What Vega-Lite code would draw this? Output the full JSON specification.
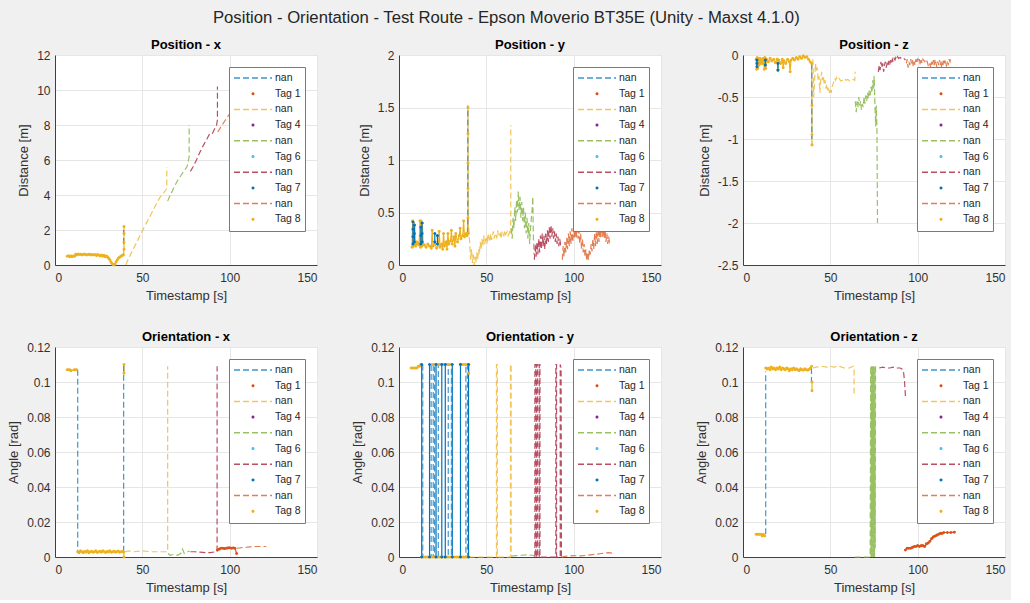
{
"$schema": "https://vega.github.io/schema/vega-lite/v6.json",
"background": "#f0f0f0",
"padding": {"left": 7, "top": 9, "right": 5, "bottom": 5},
"title": {"text": "Position - Orientation - Test Route - Epson Moverio BT35E (Unity - Maxst 4.1.0)", "fontSize": 16.7, "fontWeight": "normal", "color": "#262626", "anchor": "middle", "offset": 12},
"columns": 3,
"spacing": 82,
"bounds": "flush",
"resolve": {"scale": {"color": "independent", "shape": "independent", "strokeDash": "independent"}},
"datasets": {
"p1": [
{"s":"Tag 8","g":"a","t":7,"v":0.5},{"s":"Tag 8","g":"a","t":7.7,"v":0.53},{"s":"Tag 8","g":"a","t":8.4,"v":0.47},{"s":"Tag 8","g":"a","t":9.1,"v":0.52},{"s":"Tag 8","g":"a","t":9.8,"v":0.48},{"s":"Tag 8","g":"a","t":10.5,"v":0.52},{"s":"Tag 8","g":"a","t":11.2,"v":0.5},{"s":"Tag 8","g":"a","t":11.9,"v":0.62},{"s":"Tag 8","g":"a","t":12.6,"v":0.58},{"s":"Tag 8","g":"a","t":13.3,"v":0.63},{"s":"Tag 8","g":"a","t":14,"v":0.6},{"s":"Tag 8","g":"a","t":14.7,"v":0.62},{"s":"Tag 8","g":"a","t":15.4,"v":0.58},{"s":"Tag 8","g":"a","t":16.1,"v":0.6},{"s":"Tag 8","g":"a","t":16.8,"v":0.63},{"s":"Tag 8","g":"a","t":17.5,"v":0.6},{"s":"Tag 8","g":"a","t":18.2,"v":0.57},{"s":"Tag 8","g":"a","t":18.9,"v":0.6},{"s":"Tag 8","g":"a","t":19.6,"v":0.62},{"s":"Tag 8","g":"a","t":20.3,"v":0.58},{"s":"Tag 8","g":"a","t":21,"v":0.6},{"s":"Tag 8","g":"a","t":21.7,"v":0.57},{"s":"Tag 8","g":"a","t":22.4,"v":0.6},{"s":"Tag 8","g":"a","t":23.1,"v":0.58},{"s":"Tag 8","g":"a","t":23.8,"v":0.55},{"s":"Tag 8","g":"a","t":24.5,"v":0.6},{"s":"Tag 8","g":"a","t":25.2,"v":0.56},{"s":"Tag 8","g":"a","t":25.9,"v":0.52},{"s":"Tag 8","g":"a","t":26.6,"v":0.57},{"s":"Tag 8","g":"a","t":27.3,"v":0.5},{"s":"Tag 8","g":"a","t":28,"v":0.55},{"s":"Tag 8","g":"a","t":28.7,"v":0.48},{"s":"Tag 8","g":"a","t":29.4,"v":0.52},{"s":"Tag 8","g":"a","t":30.1,"v":0.45},{"s":"Tag 8","g":"a","t":30.8,"v":0.38},{"s":"Tag 8","g":"a","t":31.5,"v":0.28},{"s":"Tag 8","g":"a","t":32.2,"v":0.15},{"s":"Tag 8","g":"a","t":32.9,"v":0.05},{"s":"Tag 8","g":"a","t":33.6,"v":0.0},{"s":"Tag 8","g":"a","t":34.3,"v":0.05},{"s":"Tag 8","g":"a","t":35,"v":0.18},{"s":"Tag 8","g":"a","t":35.7,"v":0.3},{"s":"Tag 8","g":"a","t":36.4,"v":0.4},{"s":"Tag 8","g":"a","t":37.1,"v":0.45},{"s":"Tag 8","g":"a","t":37.8,"v":0.5},{"s":"Tag 8","g":"a","t":38.5,"v":0.55},{"s":"Tag 8","g":"a","t":39.2,"v":0.58},{"s":"Tag 8","g":"a","t":39.5,"v":0.9},{"s":"Tag 8","g":"a","t":39.5,"v":1.3},{"s":"Tag 8","g":"a","t":39.5,"v":1.8},{"s":"Tag 8","g":"a","t":39.5,"v":2.2},
{"s":"nan1","g":"a","t":39.3,"v":1.2},{"s":"nan1","g":"a","t":39.3,"v":2.0},
{"s":"nan2","g":"a","t":40.5,"v":0},{"s":"nan2","g":"a","t":42,"v":0.35},{"s":"nan2","g":"a","t":44,"v":0.75},{"s":"nan2","g":"a","t":46,"v":1.15},{"s":"nan2","g":"a","t":48,"v":1.55},{"s":"nan2","g":"a","t":50,"v":1.95},{"s":"nan2","g":"a","t":52,"v":2.35},{"s":"nan2","g":"a","t":54,"v":2.7},{"s":"nan2","g":"a","t":56,"v":3.1},{"s":"nan2","g":"a","t":58,"v":3.5},{"s":"nan2","g":"a","t":60,"v":3.85},{"s":"nan2","g":"a","t":62,"v":4.1},{"s":"nan2","g":"a","t":63.5,"v":4.3},{"s":"nan2","g":"a","t":64,"v":4.4},{"s":"nan2","g":"a","t":64,"v":5.6},
{"s":"nan3","g":"a","t":64.5,"v":3.65},{"s":"nan3","g":"a","t":66,"v":4.0},{"s":"nan3","g":"a","t":68,"v":4.4},{"s":"nan3","g":"a","t":70,"v":4.8},{"s":"nan3","g":"a","t":72,"v":5.1},{"s":"nan3","g":"a","t":74,"v":5.4},{"s":"nan3","g":"a","t":75.5,"v":5.6},{"s":"nan3","g":"a","t":76.3,"v":5.9},{"s":"nan3","g":"a","t":76.8,"v":6.2},{"s":"nan3","g":"a","t":76.8,"v":8.0},
{"s":"nan4","g":"a","t":77.5,"v":5.35},{"s":"nan4","g":"a","t":79,"v":5.6},{"s":"nan4","g":"a","t":81,"v":6.0},{"s":"nan4","g":"a","t":83,"v":6.45},{"s":"nan4","g":"a","t":85,"v":6.85},{"s":"nan4","g":"a","t":87,"v":7.2},{"s":"nan4","g":"a","t":88.5,"v":7.5},{"s":"nan4","g":"a","t":90,"v":7.5},{"s":"nan4","g":"a","t":91.5,"v":7.8},{"s":"nan4","g":"a","t":92.5,"v":8.0},{"s":"nan4","g":"a","t":93,"v":8.3},{"s":"nan4","g":"a","t":93,"v":10.2},
{"s":"nan5","g":"a","t":93.2,"v":7.6},{"s":"nan5","g":"a","t":95,"v":7.9},{"s":"nan5","g":"a","t":97,"v":8.2},{"s":"nan5","g":"a","t":99,"v":8.5},{"s":"nan5","g":"a","t":100.5,"v":8.7},{"s":"nan5","g":"a","t":103,"v":8.9},{"s":"nan5","g":"a","t":106,"v":9.1},{"s":"nan5","g":"a","t":110,"v":9.3},{"s":"nan5","g":"a","t":115,"v":9.5},{"s":"nan5","g":"a","t":120,"v":9.6}
],
"p2": [
{"s":"Tag 8","g":"a","t":7.5,"v":0.17},{"s":"Tag 8","g":"a","t":7.8,"v":0.42},{"s":"Tag 8","g":"a","t":8.1,"v":0.18},{"s":"Tag 8","g":"a","t":8.4,"v":0.4},{"s":"Tag 8","g":"a","t":8.7,"v":0.2},{"s":"Tag 8","g":"a","t":9,"v":0.38},{"s":"Tag 8","g":"a","t":9.5,"v":0.18},{"s":"Tag 8","g":"a","t":10,"v":0.22},{"s":"Tag 8","g":"a","t":10.5,"v":0.2},{"s":"Tag 8","g":"a","t":11,"v":0.21},{"s":"Tag 8","g":"a","t":11.5,"v":0.19},{"s":"Tag 8","g":"a","t":12,"v":0.42},{"s":"Tag 8","g":"a","t":12.3,"v":0.17},{"s":"Tag 8","g":"a","t":12.6,"v":0.42},{"s":"Tag 8","g":"a","t":13,"v":0.18},{"s":"Tag 8","g":"a","t":13.4,"v":0.4},{"s":"Tag 8","g":"a","t":13.8,"v":0.2},{"s":"Tag 8","g":"a","t":14.5,"v":0.19},{"s":"Tag 8","g":"a","t":15.5,"v":0.17},{"s":"Tag 8","g":"a","t":16.5,"v":0.2},{"s":"Tag 8","g":"a","t":17.5,"v":0.18},{"s":"Tag 8","g":"a","t":18.5,"v":0.16},{"s":"Tag 8","g":"a","t":19,"v":0.33},{"s":"Tag 8","g":"a","t":19.5,"v":0.18},{"s":"Tag 8","g":"a","t":20.5,"v":0.2},{"s":"Tag 8","g":"a","t":21.5,"v":0.16},{"s":"Tag 8","g":"a","t":22.5,"v":0.19},{"s":"Tag 8","g":"a","t":23,"v":0.32},{"s":"Tag 8","g":"a","t":23.5,"v":0.17},{"s":"Tag 8","g":"a","t":24.5,"v":0.2},{"s":"Tag 8","g":"a","t":25,"v":0.15},{"s":"Tag 8","g":"a","t":25.5,"v":0.3},{"s":"Tag 8","g":"a","t":26,"v":0.18},{"s":"Tag 8","g":"a","t":27,"v":0.22},{"s":"Tag 8","g":"a","t":27.5,"v":0.15},{"s":"Tag 8","g":"a","t":28,"v":0.3},{"s":"Tag 8","g":"a","t":28.5,"v":0.2},{"s":"Tag 8","g":"a","t":29.5,"v":0.23},{"s":"Tag 8","g":"a","t":30,"v":0.33},{"s":"Tag 8","g":"a","t":30.5,"v":0.2},{"s":"Tag 8","g":"a","t":31.5,"v":0.27},{"s":"Tag 8","g":"a","t":32,"v":0.18},{"s":"Tag 8","g":"a","t":32.5,"v":0.3},{"s":"Tag 8","g":"a","t":33.5,"v":0.22},{"s":"Tag 8","g":"a","t":34.5,"v":0.28},{"s":"Tag 8","g":"a","t":35,"v":0.35},{"s":"Tag 8","g":"a","t":35.5,"v":0.25},{"s":"Tag 8","g":"a","t":36.5,"v":0.28},{"s":"Tag 8","g":"a","t":37,"v":0.42},{"s":"Tag 8","g":"a","t":37.5,"v":0.27},{"s":"Tag 8","g":"a","t":38.5,"v":0.3},{"s":"Tag 8","g":"a","t":39,"v":0.28},{"s":"Tag 8","g":"a","t":39.5,"v":0.45},{"s":"Tag 8","g":"a","t":39.5,"v":0.73},{"s":"Tag 8","g":"a","t":39.5,"v":0.97},{"s":"Tag 8","g":"a","t":39.5,"v":1.25},{"s":"Tag 8","g":"a","t":39.5,"v":1.5},{"s":"Tag 8","g":"a","t":39.6,"v":0.3},
{"s":"Tag 7","g":"a","t":8,"v":0.2},{"s":"Tag 7","g":"a","t":8,"v":0.27},{"s":"Tag 7","g":"a","t":8,"v":0.34},{"s":"Tag 7","g":"a","t":8,"v":0.41},{"s":"Tag 7","g":"b","t":8.8,"v":0.22},{"s":"Tag 7","g":"b","t":8.8,"v":0.3},{"s":"Tag 7","g":"b","t":8.8,"v":0.38},{"s":"Tag 7","g":"c","t":12.5,"v":0.2},{"s":"Tag 7","g":"c","t":12.5,"v":0.28},{"s":"Tag 7","g":"c","t":12.5,"v":0.36},{"s":"Tag 7","g":"d","t":13.2,"v":0.22},{"s":"Tag 7","g":"d","t":13.2,"v":0.3},{"s":"Tag 7","g":"d","t":13.2,"v":0.4},{"s":"Tag 7","g":"e","t":20.5,"v":0.22},{"s":"Tag 7","g":"e","t":20.5,"v":0.3},{"s":"Tag 7","g":"f","t":22,"v":0.2},{"s":"Tag 7","g":"f","t":22,"v":0.28},
{"s":"nan1","g":"a","t":39.4,"v":0.3},{"s":"nan1","g":"a","t":39.4,"v":1.52},
{"s":"nan2","g":"a","t":40,"v":0.35},{"s":"nan2","g":"a","t":40.5,"v":0.2},{"s":"nan2","g":"a","t":41,"v":0.05},{"s":"nan2","g":"a","t":41.5,"v":0.15},{"s":"nan2","g":"a","t":42,"v":0.02},{"s":"nan2","g":"a","t":42.5,"v":0.1},{"s":"nan2","g":"a","t":43,"v":0},{"s":"nan2","g":"a","t":43.5,"v":0.08},{"s":"nan2","g":"a","t":44,"v":0.02},{"s":"nan2","g":"a","t":44.5,"v":0.12},{"s":"nan2","g":"a","t":45,"v":0.05},{"s":"nan2","g":"a","t":45.5,"v":0.15},{"s":"nan2","g":"a","t":46,"v":0.1},{"s":"nan2","g":"a","t":46.5,"v":0.22},{"s":"nan2","g":"a","t":47,"v":0.15},{"s":"nan2","g":"a","t":47.5,"v":0.25},{"s":"nan2","g":"a","t":48,"v":0.18},{"s":"nan2","g":"a","t":48.5,"v":0.28},{"s":"nan2","g":"a","t":49,"v":0.2},{"s":"nan2","g":"a","t":50,"v":0.27},{"s":"nan2","g":"a","t":50.5,"v":0.2},{"s":"nan2","g":"a","t":51,"v":0.3},{"s":"nan2","g":"a","t":52,"v":0.22},{"s":"nan2","g":"a","t":52.5,"v":0.3},{"s":"nan2","g":"a","t":53,"v":0.24},{"s":"nan2","g":"a","t":54,"v":0.32},{"s":"nan2","g":"a","t":54.5,"v":0.25},{"s":"nan2","g":"a","t":55,"v":0.3},{"s":"nan2","g":"a","t":56,"v":0.26},{"s":"nan2","g":"a","t":56.5,"v":0.33},{"s":"nan2","g":"a","t":57,"v":0.27},{"s":"nan2","g":"a","t":58,"v":0.3},{"s":"nan2","g":"a","t":58.5,"v":0.25},{"s":"nan2","g":"a","t":59,"v":0.32},{"s":"nan2","g":"a","t":60,"v":0.28},{"s":"nan2","g":"a","t":60.5,"v":0.33},{"s":"nan2","g":"a","t":61,"v":0.29},{"s":"nan2","g":"a","t":62,"v":0.32},{"s":"nan2","g":"a","t":62.5,"v":0.28},{"s":"nan2","g":"a","t":63,"v":0.3},{"s":"nan2","g":"a","t":63.5,"v":0.33},{"s":"nan2","g":"a","t":64,"v":0.3},{"s":"nan2","g":"a","t":64,"v":1.33},
{"s":"nan3","g":"a","t":64.3,"v":0.35},{"s":"nan3","g":"a","t":64.8,"v":0.25},{"s":"nan3","g":"a","t":65.3,"v":0.45},{"s":"nan3","g":"a","t":65.8,"v":0.35},{"s":"nan3","g":"a","t":66.3,"v":0.55},{"s":"nan3","g":"a","t":66.8,"v":0.42},{"s":"nan3","g":"a","t":67.3,"v":0.62},{"s":"nan3","g":"a","t":67.8,"v":0.5},{"s":"nan3","g":"a","t":68.3,"v":0.7},{"s":"nan3","g":"a","t":68.8,"v":0.52},{"s":"nan3","g":"a","t":69.3,"v":0.65},{"s":"nan3","g":"a","t":69.8,"v":0.45},{"s":"nan3","g":"a","t":70.3,"v":0.6},{"s":"nan3","g":"a","t":70.8,"v":0.42},{"s":"nan3","g":"a","t":71.3,"v":0.55},{"s":"nan3","g":"a","t":71.8,"v":0.35},{"s":"nan3","g":"a","t":72.3,"v":0.5},{"s":"nan3","g":"a","t":72.8,"v":0.3},{"s":"nan3","g":"a","t":73.3,"v":0.45},{"s":"nan3","g":"a","t":73.8,"v":0.25},{"s":"nan3","g":"a","t":74.3,"v":0.4},{"s":"nan3","g":"a","t":74.8,"v":0.2},{"s":"nan3","g":"a","t":75.3,"v":0.35},{"s":"nan3","g":"a","t":75.8,"v":0.45},{"s":"nan3","g":"a","t":76.3,"v":0.55},{"s":"nan3","g":"a","t":76.6,"v":0.65},{"s":"nan3","g":"a","t":76.9,"v":0.3},{"s":"nan3","g":"a","t":77.2,"v":0.1},
{"s":"nan4","g":"a","t":77.5,"v":0.05},{"s":"nan4","g":"a","t":78,"v":0.2},{"s":"nan4","g":"a","t":78.5,"v":0.08},{"s":"nan4","g":"a","t":79,"v":0.22},{"s":"nan4","g":"a","t":79.5,"v":0.1},{"s":"nan4","g":"a","t":80,"v":0.25},{"s":"nan4","g":"a","t":80.5,"v":0.12},{"s":"nan4","g":"a","t":81,"v":0.28},{"s":"nan4","g":"a","t":81.5,"v":0.15},{"s":"nan4","g":"a","t":82,"v":0.3},{"s":"nan4","g":"a","t":82.5,"v":0.18},{"s":"nan4","g":"a","t":83,"v":0.28},{"s":"nan4","g":"a","t":83.5,"v":0.15},{"s":"nan4","g":"a","t":84,"v":0.3},{"s":"nan4","g":"a","t":84.5,"v":0.2},{"s":"nan4","g":"a","t":85,"v":0.33},{"s":"nan4","g":"a","t":85.5,"v":0.22},{"s":"nan4","g":"a","t":86,"v":0.36},{"s":"nan4","g":"a","t":86.5,"v":0.25},{"s":"nan4","g":"a","t":87,"v":0.38},{"s":"nan4","g":"a","t":87.5,"v":0.27},{"s":"nan4","g":"a","t":88,"v":0.35},{"s":"nan4","g":"a","t":88.5,"v":0.25},{"s":"nan4","g":"a","t":89,"v":0.32},{"s":"nan4","g":"a","t":89.5,"v":0.22},{"s":"nan4","g":"a","t":90,"v":0.3},{"s":"nan4","g":"a","t":90.5,"v":0.2},{"s":"nan4","g":"a","t":91,"v":0.27},{"s":"nan4","g":"a","t":91.5,"v":0.18},{"s":"nan4","g":"a","t":92,"v":0.25},{"s":"nan4","g":"a","t":92.5,"v":0.2},{"s":"nan4","g":"a","t":93,"v":0.22},
{"s":"nan5","g":"a","t":93.5,"v":0.05},{"s":"nan5","g":"a","t":94,"v":0.18},{"s":"nan5","g":"a","t":94.5,"v":0.08},{"s":"nan5","g":"a","t":95,"v":0.22},{"s":"nan5","g":"a","t":95.5,"v":0.12},{"s":"nan5","g":"a","t":96,"v":0.26},{"s":"nan5","g":"a","t":96.5,"v":0.15},{"s":"nan5","g":"a","t":97,"v":0.3},{"s":"nan5","g":"a","t":97.5,"v":0.18},{"s":"nan5","g":"a","t":98,"v":0.32},{"s":"nan5","g":"a","t":98.5,"v":0.2},{"s":"nan5","g":"a","t":99,"v":0.35},{"s":"nan5","g":"a","t":99.5,"v":0.22},{"s":"nan5","g":"a","t":100,"v":0.36},{"s":"nan5","g":"a","t":100.5,"v":0.25},{"s":"nan5","g":"a","t":101,"v":0.38},{"s":"nan5","g":"a","t":101.5,"v":0.25},{"s":"nan5","g":"a","t":102,"v":0.4},{"s":"nan5","g":"a","t":102.5,"v":0.25},{"s":"nan5","g":"a","t":103,"v":0.33},{"s":"nan5","g":"a","t":103.5,"v":0.2},{"s":"nan5","g":"a","t":104,"v":0.3},{"s":"nan5","g":"a","t":104.5,"v":0.15},{"s":"nan5","g":"a","t":105,"v":0.25},{"s":"nan5","g":"a","t":105.5,"v":0.12},{"s":"nan5","g":"a","t":106,"v":0.2},{"s":"nan5","g":"a","t":106.5,"v":0.08},{"s":"nan5","g":"a","t":107,"v":0.15},{"s":"nan5","g":"a","t":107.5,"v":0.04},{"s":"nan5","g":"a","t":108,"v":0.12},{"s":"nan5","g":"a","t":108.5,"v":0.05},{"s":"nan5","g":"a","t":109,"v":0.15},{"s":"nan5","g":"a","t":109.5,"v":0.1},{"s":"nan5","g":"a","t":110,"v":0.2},{"s":"nan5","g":"a","t":110.5,"v":0.13},{"s":"nan5","g":"a","t":111,"v":0.25},{"s":"nan5","g":"a","t":111.5,"v":0.15},{"s":"nan5","g":"a","t":112,"v":0.3},{"s":"nan5","g":"a","t":112.5,"v":0.18},{"s":"nan5","g":"a","t":113,"v":0.32},{"s":"nan5","g":"a","t":113.5,"v":0.2},{"s":"nan5","g":"a","t":114,"v":0.35},{"s":"nan5","g":"a","t":114.5,"v":0.22},{"s":"nan5","g":"a","t":115,"v":0.38},{"s":"nan5","g":"a","t":115.5,"v":0.25},{"s":"nan5","g":"a","t":116,"v":0.4},{"s":"nan5","g":"a","t":116.5,"v":0.27},{"s":"nan5","g":"a","t":117,"v":0.38},{"s":"nan5","g":"a","t":117.5,"v":0.25},{"s":"nan5","g":"a","t":118,"v":0.33},{"s":"nan5","g":"a","t":118.5,"v":0.22},{"s":"nan5","g":"a","t":119,"v":0.3},{"s":"nan5","g":"a","t":119.5,"v":0.2},{"s":"nan5","g":"a","t":120,"v":0.27},{"s":"nan5","g":"a","t":120.5,"v":0.22},{"s":"nan5","g":"a","t":121,"v":0.24}
],
"p3": [
{"s":"Tag 8","g":"a","t":7.5,"v":-0.05},{"s":"Tag 8","g":"a","t":7.8,"v":-0.17},{"s":"Tag 8","g":"a","t":8.1,"v":-0.03},{"s":"Tag 8","g":"a","t":8.4,"v":-0.16},{"s":"Tag 8","g":"a","t":8.7,"v":-0.05},{"s":"Tag 8","g":"a","t":9.2,"v":-0.12},{"s":"Tag 8","g":"a","t":9.7,"v":-0.04},{"s":"Tag 8","g":"a","t":10.2,"v":-0.1},{"s":"Tag 8","g":"a","t":10.7,"v":-0.05},{"s":"Tag 8","g":"a","t":11.2,"v":-0.1},{"s":"Tag 8","g":"a","t":11.7,"v":-0.04},{"s":"Tag 8","g":"a","t":12.2,"v":-0.17},{"s":"Tag 8","g":"a","t":12.6,"v":-0.03},{"s":"Tag 8","g":"a","t":13,"v":-0.16},{"s":"Tag 8","g":"a","t":13.5,"v":-0.05},{"s":"Tag 8","g":"a","t":14.5,"v":-0.08},{"s":"Tag 8","g":"a","t":15.5,"v":-0.04},{"s":"Tag 8","g":"a","t":16.5,"v":-0.07},{"s":"Tag 8","g":"a","t":17.5,"v":-0.05},{"s":"Tag 8","g":"a","t":18.5,"v":-0.09},{"s":"Tag 8","g":"a","t":19.5,"v":-0.05},{"s":"Tag 8","g":"a","t":20,"v":-0.18},{"s":"Tag 8","g":"a","t":20.5,"v":-0.06},{"s":"Tag 8","g":"a","t":21.5,"v":-0.1},{"s":"Tag 8","g":"a","t":22.5,"v":-0.05},{"s":"Tag 8","g":"a","t":23,"v":-0.15},{"s":"Tag 8","g":"a","t":23.5,"v":-0.07},{"s":"Tag 8","g":"a","t":24.5,"v":-0.1},{"s":"Tag 8","g":"a","t":25.5,"v":-0.05},{"s":"Tag 8","g":"a","t":26.5,"v":-0.08},{"s":"Tag 8","g":"a","t":27,"v":-0.2},{"s":"Tag 8","g":"a","t":27.5,"v":-0.06},{"s":"Tag 8","g":"a","t":28.5,"v":-0.04},{"s":"Tag 8","g":"a","t":29.5,"v":-0.06},{"s":"Tag 8","g":"a","t":30.5,"v":-0.03},{"s":"Tag 8","g":"a","t":31.5,"v":-0.05},{"s":"Tag 8","g":"a","t":32.5,"v":-0.02},{"s":"Tag 8","g":"a","t":33.5,"v":-0.04},{"s":"Tag 8","g":"a","t":34.5,"v":-0.01},{"s":"Tag 8","g":"a","t":35.5,"v":-0.03},{"s":"Tag 8","g":"a","t":36.5,"v":-0.02},{"s":"Tag 8","g":"a","t":37.5,"v":-0.05},{"s":"Tag 8","g":"a","t":38.5,"v":-0.08},{"s":"Tag 8","g":"a","t":39.3,"v":-0.1},{"s":"Tag 8","g":"a","t":39.5,"v":-0.6},{"s":"Tag 8","g":"a","t":39.5,"v":-0.95},{"s":"Tag 8","g":"a","t":39.5,"v":-1.07},
{"s":"Tag 7","g":"a","t":8,"v":-0.06},{"s":"Tag 7","g":"a","t":8,"v":-0.1},{"s":"Tag 7","g":"a","t":8,"v":-0.14},{"s":"Tag 7","g":"b","t":12.8,"v":-0.06},{"s":"Tag 7","g":"b","t":12.8,"v":-0.12},{"s":"Tag 7","g":"c","t":20,"v":-0.1},{"s":"Tag 7","g":"c","t":20,"v":-0.18},
{"s":"nan1","g":"a","t":39.4,"v":-0.1},{"s":"nan1","g":"a","t":39.4,"v":-1.0},
{"s":"nan2","g":"a","t":40,"v":-0.05},{"s":"nan2","g":"a","t":40.5,"v":-0.5},{"s":"nan2","g":"a","t":41,"v":-0.3},{"s":"nan2","g":"a","t":41.5,"v":-0.1},{"s":"nan2","g":"a","t":42,"v":-0.2},{"s":"nan2","g":"a","t":42.5,"v":-0.15},{"s":"nan2","g":"a","t":43,"v":-0.3},{"s":"nan2","g":"a","t":43.5,"v":-0.25},{"s":"nan2","g":"a","t":44,"v":-0.45},{"s":"nan2","g":"a","t":44.5,"v":-0.3},{"s":"nan2","g":"a","t":45,"v":-0.2},{"s":"nan2","g":"a","t":45.5,"v":-0.3},{"s":"nan2","g":"a","t":46,"v":-0.25},{"s":"nan2","g":"a","t":46.5,"v":-0.35},{"s":"nan2","g":"a","t":47,"v":-0.3},{"s":"nan2","g":"a","t":47.5,"v":-0.4},{"s":"nan2","g":"a","t":48,"v":-0.35},{"s":"nan2","g":"a","t":48.5,"v":-0.42},{"s":"nan2","g":"a","t":49,"v":-0.38},{"s":"nan2","g":"a","t":49.5,"v":-0.45},{"s":"nan2","g":"a","t":50,"v":-0.4},{"s":"nan2","g":"a","t":50.5,"v":-0.45},{"s":"nan2","g":"a","t":51,"v":-0.38},{"s":"nan2","g":"a","t":51.5,"v":-0.35},{"s":"nan2","g":"a","t":52,"v":-0.32},{"s":"nan2","g":"a","t":52.5,"v":-0.28},{"s":"nan2","g":"a","t":53,"v":-0.3},{"s":"nan2","g":"a","t":53.5,"v":-0.27},{"s":"nan2","g":"a","t":54,"v":-0.3},{"s":"nan2","g":"a","t":55,"v":-0.28},{"s":"nan2","g":"a","t":56,"v":-0.31},{"s":"nan2","g":"a","t":57,"v":-0.3},{"s":"nan2","g":"a","t":58,"v":-0.28},{"s":"nan2","g":"a","t":59,"v":-0.3},{"s":"nan2","g":"a","t":60,"v":-0.29},{"s":"nan2","g":"a","t":61,"v":-0.31},{"s":"nan2","g":"a","t":62,"v":-0.3},{"s":"nan2","g":"a","t":63,"v":-0.29},{"s":"nan2","g":"a","t":64,"v":-0.3},{"s":"nan2","g":"a","t":64.2,"v":-0.2},
{"s":"nan3","g":"a","t":64.3,"v":-0.55},{"s":"nan3","g":"a","t":64.8,"v":-0.68},{"s":"nan3","g":"a","t":65.3,"v":-0.55},{"s":"nan3","g":"a","t":65.8,"v":-0.62},{"s":"nan3","g":"a","t":66.3,"v":-0.5},{"s":"nan3","g":"a","t":66.8,"v":-0.6},{"s":"nan3","g":"a","t":67.3,"v":-0.55},{"s":"nan3","g":"a","t":67.8,"v":-0.65},{"s":"nan3","g":"a","t":68.3,"v":-0.58},{"s":"nan3","g":"a","t":68.8,"v":-0.62},{"s":"nan3","g":"a","t":69.3,"v":-0.5},{"s":"nan3","g":"a","t":69.8,"v":-0.58},{"s":"nan3","g":"a","t":70.3,"v":-0.48},{"s":"nan3","g":"a","t":70.8,"v":-0.55},{"s":"nan3","g":"a","t":71.3,"v":-0.45},{"s":"nan3","g":"a","t":71.8,"v":-0.52},{"s":"nan3","g":"a","t":72.3,"v":-0.42},{"s":"nan3","g":"a","t":72.8,"v":-0.48},{"s":"nan3","g":"a","t":73.3,"v":-0.38},{"s":"nan3","g":"a","t":73.8,"v":-0.45},{"s":"nan3","g":"a","t":74.3,"v":-0.3},{"s":"nan3","g":"a","t":74.8,"v":-0.4},{"s":"nan3","g":"a","t":75.1,"v":-0.25},{"s":"nan3","g":"a","t":75.4,"v":-0.5},{"s":"nan3","g":"a","t":75.7,"v":-0.7},{"s":"nan3","g":"a","t":76,"v":-0.85},{"s":"nan3","g":"a","t":76.3,"v":-0.6},{"s":"nan3","g":"a","t":76.7,"v":-0.9},{"s":"nan3","g":"a","t":77,"v":-2.0},
{"s":"nan4","g":"a","t":77.5,"v":-0.2},{"s":"nan4","g":"a","t":78,"v":-0.12},{"s":"nan4","g":"a","t":78.5,"v":-0.18},{"s":"nan4","g":"a","t":79,"v":-0.08},{"s":"nan4","g":"a","t":79.5,"v":-0.15},{"s":"nan4","g":"a","t":80,"v":-0.1},{"s":"nan4","g":"a","t":80.5,"v":-0.2},{"s":"nan4","g":"a","t":81,"v":-0.12},{"s":"nan4","g":"a","t":81.5,"v":-0.08},{"s":"nan4","g":"a","t":82,"v":-0.15},{"s":"nan4","g":"a","t":82.5,"v":-0.1},{"s":"nan4","g":"a","t":83,"v":-0.13},{"s":"nan4","g":"a","t":83.5,"v":-0.07},{"s":"nan4","g":"a","t":84,"v":-0.12},{"s":"nan4","g":"a","t":84.5,"v":-0.06},{"s":"nan4","g":"a","t":85,"v":-0.1},{"s":"nan4","g":"a","t":85.5,"v":-0.05},{"s":"nan4","g":"a","t":86,"v":-0.08},{"s":"nan4","g":"a","t":86.5,"v":-0.04},{"s":"nan4","g":"a","t":87,"v":-0.06},{"s":"nan4","g":"a","t":87.5,"v":-0.03},{"s":"nan4","g":"a","t":88,"v":-0.05},{"s":"nan4","g":"a","t":88.5,"v":-0.02},{"s":"nan4","g":"a","t":89,"v":-0.04},{"s":"nan4","g":"a","t":90,"v":-0.03},{"s":"nan4","g":"a","t":91,"v":-0.05},{"s":"nan4","g":"a","t":92,"v":-0.04},{"s":"nan4","g":"a","t":93,"v":-0.06},
{"s":"nan5","g":"a","t":93.5,"v":-0.1},{"s":"nan5","g":"a","t":94,"v":-0.05},{"s":"nan5","g":"a","t":94.5,"v":-0.15},{"s":"nan5","g":"a","t":95,"v":-0.08},{"s":"nan5","g":"a","t":95.5,"v":-0.12},{"s":"nan5","g":"a","t":96,"v":-0.05},{"s":"nan5","g":"a","t":96.5,"v":-0.1},{"s":"nan5","g":"a","t":97,"v":-0.06},{"s":"nan5","g":"a","t":97.5,"v":-0.14},{"s":"nan5","g":"a","t":98,"v":-0.08},{"s":"nan5","g":"a","t":98.5,"v":-0.12},{"s":"nan5","g":"a","t":99,"v":-0.05},{"s":"nan5","g":"a","t":99.5,"v":-0.1},{"s":"nan5","g":"a","t":100,"v":-0.04},{"s":"nan5","g":"a","t":100.5,"v":-0.08},{"s":"nan5","g":"a","t":101,"v":-0.05},{"s":"nan5","g":"a","t":101.5,"v":-0.12},{"s":"nan5","g":"a","t":102,"v":-0.06},{"s":"nan5","g":"a","t":102.5,"v":-0.1},{"s":"nan5","g":"a","t":103,"v":-0.05},{"s":"nan5","g":"a","t":104,"v":-0.08},{"s":"nan5","g":"a","t":105,"v":-0.05},{"s":"nan5","g":"a","t":106,"v":-0.12},{"s":"nan5","g":"a","t":106.5,"v":-0.2},{"s":"nan5","g":"a","t":107,"v":-0.1},{"s":"nan5","g":"a","t":107.5,"v":-0.15},{"s":"nan5","g":"a","t":108,"v":-0.08},{"s":"nan5","g":"a","t":108.5,"v":-0.13},{"s":"nan5","g":"a","t":109,"v":-0.06},{"s":"nan5","g":"a","t":109.5,"v":-0.12},{"s":"nan5","g":"a","t":110,"v":-0.05},{"s":"nan5","g":"a","t":110.5,"v":-0.1},{"s":"nan5","g":"a","t":111,"v":-0.14},{"s":"nan5","g":"a","t":111.5,"v":-0.08},{"s":"nan5","g":"a","t":112,"v":-0.12},{"s":"nan5","g":"a","t":112.5,"v":-0.06},{"s":"nan5","g":"a","t":113,"v":-0.1},{"s":"nan5","g":"a","t":113.5,"v":-0.15},{"s":"nan5","g":"a","t":114,"v":-0.07},{"s":"nan5","g":"a","t":114.5,"v":-0.12},{"s":"nan5","g":"a","t":115,"v":-0.05},{"s":"nan5","g":"a","t":115.5,"v":-0.1},{"s":"nan5","g":"a","t":116,"v":-0.06},{"s":"nan5","g":"a","t":116.5,"v":-0.14},{"s":"nan5","g":"a","t":117,"v":-0.08},{"s":"nan5","g":"a","t":117.5,"v":-0.12},{"s":"nan5","g":"a","t":118,"v":-0.05},{"s":"nan5","g":"a","t":118.5,"v":-0.08},{"s":"nan5","g":"a","t":119,"v":-0.04},{"s":"nan5","g":"a","t":119.5,"v":-0.06}
],
"p4": [
{"s":"Tag 8","g":"a","t":7,"v":0.107},{"s":"Tag 8","g":"a","t":7.7,"v":0.107},{"s":"Tag 8","g":"a","t":8.4,"v":0.107},{"s":"Tag 8","g":"a","t":9.1,"v":0.1065},{"s":"Tag 8","g":"a","t":11,"v":0.107},{"s":"Tag 8","g":"a","t":11.7,"v":0.107},{"s":"Tag 8","g":"a","t":12.4,"v":0.107},
{"s":"Tag 8","g":"b","t":13,"v":0.003},{"s":"Tag 8","g":"b","t":13.8,"v":0.0025},{"s":"Tag 8","g":"b","t":14.6,"v":0.0035},{"s":"Tag 8","g":"b","t":15.4,"v":0.003},{"s":"Tag 8","g":"b","t":16.2,"v":0.0025},{"s":"Tag 8","g":"b","t":17,"v":0.0032},{"s":"Tag 8","g":"b","t":17.8,"v":0.0028},{"s":"Tag 8","g":"b","t":18.6,"v":0.0035},{"s":"Tag 8","g":"b","t":19.4,"v":0.0025},{"s":"Tag 8","g":"b","t":20.2,"v":0.003},{"s":"Tag 8","g":"b","t":21,"v":0.0033},{"s":"Tag 8","g":"b","t":21.8,"v":0.0027},{"s":"Tag 8","g":"b","t":22.6,"v":0.003},{"s":"Tag 8","g":"b","t":23.4,"v":0.0035},{"s":"Tag 8","g":"b","t":24.2,"v":0.0026},{"s":"Tag 8","g":"b","t":25,"v":0.003},{"s":"Tag 8","g":"b","t":25.8,"v":0.0033},{"s":"Tag 8","g":"b","t":26.6,"v":0.0028},{"s":"Tag 8","g":"b","t":27.4,"v":0.0036},{"s":"Tag 8","g":"b","t":28.2,"v":0.003},{"s":"Tag 8","g":"b","t":29,"v":0.0026},{"s":"Tag 8","g":"b","t":29.8,"v":0.0032},{"s":"Tag 8","g":"b","t":30.6,"v":0.0029},{"s":"Tag 8","g":"b","t":31.4,"v":0.0035},{"s":"Tag 8","g":"b","t":32.2,"v":0.0027},{"s":"Tag 8","g":"b","t":33,"v":0.003},{"s":"Tag 8","g":"b","t":33.8,"v":0.0033},{"s":"Tag 8","g":"b","t":34.6,"v":0.0028},{"s":"Tag 8","g":"b","t":35.4,"v":0.003},{"s":"Tag 8","g":"b","t":36.2,"v":0.0034},{"s":"Tag 8","g":"b","t":37,"v":0.0027},{"s":"Tag 8","g":"b","t":37.8,"v":0.003},{"s":"Tag 8","g":"b","t":38.6,"v":0.0032},{"s":"Tag 8","g":"b","t":39.3,"v":0.0028},{"s":"Tag 8","g":"b","t":39.5,"v":0.0},
{"s":"Tag 8","g":"c","t":39.5,"v":0.105},{"s":"Tag 8","g":"c","t":39.5,"v":0.11},
{"s":"nan1","g":"a","t":13,"v":0.107},{"s":"nan1","g":"a","t":13,"v":0.003},{"s":"nan1","g":"b","t":39.3,"v":0.003},{"s":"nan1","g":"b","t":39.3,"v":0.11},
{"s":"nan2","g":"a","t":40,"v":0.003},{"s":"nan2","g":"a","t":42,"v":0.0035},{"s":"nan2","g":"a","t":45,"v":0.003},{"s":"nan2","g":"a","t":50,"v":0.0035},{"s":"nan2","g":"a","t":55,"v":0.003},{"s":"nan2","g":"a","t":60,"v":0.003},{"s":"nan2","g":"a","t":64.5,"v":0.003},{"s":"nan2","g":"a","t":64.5,"v":0.109},
{"s":"nan3","g":"a","t":64.7,"v":0.002},{"s":"nan3","g":"a","t":66,"v":0.001},{"s":"nan3","g":"a","t":68,"v":0.0015},{"s":"nan3","g":"a","t":70,"v":0.001},{"s":"nan3","g":"a","t":72,"v":0.002},{"s":"nan3","g":"a","t":73,"v":0.0045},{"s":"nan3","g":"a","t":74,"v":0.002},{"s":"nan3","g":"a","t":76,"v":0.003},{"s":"nan3","g":"a","t":77,"v":0.0035},
{"s":"nan4","g":"a","t":77.5,"v":0.003},{"s":"nan4","g":"a","t":80,"v":0.003},{"s":"nan4","g":"a","t":83,"v":0.0028},{"s":"nan4","g":"a","t":86,"v":0.0025},{"s":"nan4","g":"a","t":89,"v":0.0025},{"s":"nan4","g":"a","t":92,"v":0.003},{"s":"nan4","g":"a","t":92.8,"v":0.003},{"s":"nan4","g":"a","t":92.8,"v":0.109},
{"s":"Tag 1","g":"a","t":93,"v":0.004},{"s":"Tag 1","g":"a","t":94,"v":0.0045},{"s":"Tag 1","g":"a","t":95,"v":0.005},{"s":"Tag 1","g":"a","t":96,"v":0.005},{"s":"Tag 1","g":"a","t":97,"v":0.0048},{"s":"Tag 1","g":"a","t":98,"v":0.005},{"s":"Tag 1","g":"a","t":99,"v":0.0052},{"s":"Tag 1","g":"a","t":100,"v":0.0053},{"s":"Tag 1","g":"a","t":101,"v":0.005},{"s":"Tag 1","g":"a","t":102,"v":0.0052},{"s":"Tag 1","g":"a","t":103,"v":0.005},{"s":"Tag 1","g":"a","t":104,"v":0.002},
{"s":"nan5","g":"a","t":104,"v":0.005},{"s":"nan5","g":"a","t":106,"v":0.0052},{"s":"nan5","g":"a","t":108,"v":0.0055},{"s":"nan5","g":"a","t":110,"v":0.0056},{"s":"nan5","g":"a","t":112,"v":0.0058},{"s":"nan5","g":"a","t":115,"v":0.006},{"s":"nan5","g":"a","t":118,"v":0.006},{"s":"nan5","g":"a","t":121,"v":0.006}
],
"p5": [
{"s":"Tag 8","g":"a","t":7,"v":0.108},{"s":"Tag 8","g":"a","t":7.8,"v":0.108},{"s":"Tag 8","g":"a","t":8.6,"v":0.108},{"s":"Tag 8","g":"a","t":9.4,"v":0.108},{"s":"Tag 8","g":"a","t":10.2,"v":0.108},{"s":"Tag 8","g":"a","t":11,"v":0.109},{"s":"Tag 8","g":"a","t":11.8,"v":0.109},{"s":"Tag 8","g":"a","t":12.5,"v":0.11},
{"s":"Tag 8","g":"b","t":13,"v":0},{"s":"Tag 8","g":"b","t":14,"v":0},{"s":"Tag 8","g":"b","t":15,"v":0},{"s":"Tag 8","g":"b","t":16,"v":0},{"s":"Tag 8","g":"b","t":17,"v":0},{"s":"Tag 8","g":"b","t":18,"v":0},{"s":"Tag 8","g":"b","t":19,"v":0},{"s":"Tag 8","g":"b","t":20,"v":0},{"s":"Tag 8","g":"b","t":21,"v":0},{"s":"Tag 8","g":"b","t":22,"v":0},{"s":"Tag 8","g":"b","t":23,"v":0},{"s":"Tag 8","g":"b","t":24,"v":0},{"s":"Tag 8","g":"b","t":25,"v":0},{"s":"Tag 8","g":"b","t":26,"v":0},{"s":"Tag 8","g":"b","t":27,"v":0},{"s":"Tag 8","g":"b","t":28,"v":0},{"s":"Tag 8","g":"b","t":29,"v":0},{"s":"Tag 8","g":"b","t":30,"v":0},{"s":"Tag 8","g":"b","t":31,"v":0},{"s":"Tag 8","g":"b","t":32,"v":0},{"s":"Tag 8","g":"b","t":33,"v":0},{"s":"Tag 8","g":"b","t":34,"v":0},{"s":"Tag 8","g":"b","t":35,"v":0},{"s":"Tag 8","g":"b","t":36,"v":0},{"s":"Tag 8","g":"b","t":37,"v":0},{"s":"Tag 8","g":"b","t":38,"v":0},{"s":"Tag 8","g":"b","t":39,"v":0},{"s":"Tag 8","g":"b","t":40,"v":0},
{"s":"Tag 8","g":"c","t":19,"v":0.11},{"s":"Tag 8","g":"c","t":20,"v":0.11},{"s":"Tag 8","g":"c","t":21,"v":0.11},{"s":"Tag 8","g":"c","t":22,"v":0.11},{"s":"Tag 8","g":"c","t":23,"v":0.11},{"s":"Tag 8","g":"c","t":24,"v":0.11},{"s":"Tag 8","g":"c","t":25,"v":0.11},{"s":"Tag 8","g":"c","t":26,"v":0.11},{"s":"Tag 8","g":"c","t":27,"v":0.11},{"s":"Tag 8","g":"c","t":28,"v":0.11},{"s":"Tag 8","g":"c","t":29,"v":0.11},{"s":"Tag 8","g":"c","t":30,"v":0.11},
{"s":"Tag 8","g":"d","t":35,"v":0.11},{"s":"Tag 8","g":"d","t":36,"v":0.11},{"s":"Tag 8","g":"d","t":37,"v":0.11},{"s":"Tag 8","g":"d","t":38,"v":0.11},{"s":"Tag 8","g":"d","t":39,"v":0.11},{"s":"Tag 8","g":"d","t":40,"v":0.11},{"s":"Tag 8","g":"d","t":40,"v":0.105},
{"s":"Tag 7","g":"a","t":13,"v":0},{"s":"Tag 7","g":"a","t":13,"v":0.11},{"s":"Tag 7","g":"b","t":17.5,"v":0},{"s":"Tag 7","g":"b","t":17.5,"v":0.11},{"s":"Tag 7","g":"c","t":21.2,"v":0},{"s":"Tag 7","g":"c","t":21.2,"v":0.11},{"s":"Tag 7","g":"e","t":24.5,"v":0},{"s":"Tag 7","g":"e","t":24.5,"v":0.11},{"s":"Tag 7","g":"f","t":26.5,"v":0},{"s":"Tag 7","g":"f","t":26.5,"v":0.11},{"s":"Tag 7","g":"h","t":30.5,"v":0},{"s":"Tag 7","g":"h","t":30.5,"v":0.11},{"s":"Tag 7","g":"i","t":35.2,"v":0},{"s":"Tag 7","g":"i","t":35.2,"v":0.11},{"s":"Tag 7","g":"k","t":39.8,"v":0},{"s":"Tag 7","g":"k","t":39.8,"v":0.11},
{"s":"nan1","g":"a","t":13.6,"v":0.11},{"s":"nan1","g":"a","t":13.6,"v":0},{"s":"nan1","g":"a","t":18.4,"v":0},{"s":"nan1","g":"a","t":18.4,"v":0.11},{"s":"nan1","g":"a","t":19.6,"v":0.11},{"s":"nan1","g":"a","t":19.6,"v":0},{"s":"nan1","g":"a","t":20.4,"v":0},{"s":"nan1","g":"a","t":20.4,"v":0.11},{"s":"nan1","g":"a","t":22.5,"v":0.11},{"s":"nan1","g":"a","t":22.5,"v":0},{"s":"nan1","g":"a","t":28.2,"v":0},{"s":"nan1","g":"a","t":28.2,"v":0.11},{"s":"nan1","g":"a","t":30,"v":0.11},{"s":"nan1","g":"a","t":30,"v":0},{"s":"nan1","g":"a","t":38.3,"v":0},{"s":"nan1","g":"a","t":38.3,"v":0.11},{"s":"nan1","g":"a","t":39.2,"v":0.11},{"s":"nan1","g":"a","t":39.2,"v":0},
{"s":"nan2","g":"a","t":40,"v":0},{"s":"nan2","g":"a","t":48,"v":0},{"s":"nan2","g":"a","t":55.8,"v":0},{"s":"nan2","g":"a","t":55.8,"v":0.11},{"s":"nan2","g":"a","t":56.3,"v":0.11},{"s":"nan2","g":"a","t":56.3,"v":0},{"s":"nan2","g":"a","t":63.8,"v":0},{"s":"nan2","g":"a","t":63.8,"v":0.11},{"s":"nan2","g":"a","t":64.2,"v":0.11},{"s":"nan2","g":"a","t":64.2,"v":0},
{"s":"nan3","g":"a","t":64.5,"v":0.0005},{"s":"nan3","g":"a","t":67,"v":0.0008},{"s":"nan3","g":"a","t":70,"v":0.001},{"s":"nan3","g":"a","t":73,"v":0.0012},{"s":"nan3","g":"a","t":76,"v":0.001},{"s":"nan3","g":"a","t":77.5,"v":0.0008},
{"s":"nan4","g":"a","t":77.8,"v":0},{"s":"nan4","g":"a","t":77.8,"v":0.11},{"s":"nan4","g":"a","t":78.3,"v":0.11},{"s":"nan4","g":"a","t":78.3,"v":0},{"s":"nan4","g":"a","t":78.8,"v":0},{"s":"nan4","g":"a","t":78.8,"v":0.11},{"s":"nan4","g":"a","t":79.4,"v":0.11},{"s":"nan4","g":"a","t":79.4,"v":0},{"s":"nan4","g":"a","t":80.3,"v":0},{"s":"nan4","g":"a","t":80.3,"v":0.11},{"s":"nan4","g":"a","t":80.7,"v":0.11},{"s":"nan4","g":"a","t":80.7,"v":0},{"s":"nan4","g":"a","t":89.8,"v":0},{"s":"nan4","g":"a","t":89.8,"v":0.11},{"s":"nan4","g":"a","t":90.2,"v":0.11},{"s":"nan4","g":"a","t":90.2,"v":0},{"s":"nan4","g":"a","t":92.3,"v":0},{"s":"nan4","g":"a","t":92.3,"v":0.11},{"s":"nan4","g":"a","t":92.8,"v":0.108},{"s":"nan4","g":"a","t":93,"v":0},
{"s":"nan5","g":"a","t":93,"v":0},{"s":"nan5","g":"a","t":96,"v":0.0005},{"s":"nan5","g":"a","t":100,"v":0.0008},{"s":"nan5","g":"a","t":104,"v":0.0006},{"s":"nan5","g":"a","t":108,"v":0.001},{"s":"nan5","g":"a","t":112,"v":0.0015},{"s":"nan5","g":"a","t":116,"v":0.002},{"s":"nan5","g":"a","t":120,"v":0.0025},{"s":"nan5","g":"a","t":122,"v":0.0022}
],
"p6": [
{"s":"Tag 8","g":"a","t":7.5,"v":0.013},{"s":"Tag 8","g":"a","t":8.2,"v":0.013},{"s":"Tag 8","g":"a","t":8.9,"v":0.013},{"s":"Tag 8","g":"a","t":9.6,"v":0.013},{"s":"Tag 8","g":"a","t":10.3,"v":0.013},{"s":"Tag 8","g":"a","t":11,"v":0.012},{"s":"Tag 8","g":"a","t":11.7,"v":0.013},{"s":"Tag 8","g":"a","t":12.4,"v":0.012},
{"s":"Tag 8","g":"b","t":13,"v":0.108},{"s":"Tag 8","g":"b","t":13.8,"v":0.1075},{"s":"Tag 8","g":"b","t":14.6,"v":0.108},{"s":"Tag 8","g":"b","t":15.4,"v":0.107},{"s":"Tag 8","g":"b","t":16.2,"v":0.1085},{"s":"Tag 8","g":"b","t":17,"v":0.1075},{"s":"Tag 8","g":"b","t":17.8,"v":0.108},{"s":"Tag 8","g":"b","t":18.6,"v":0.107},{"s":"Tag 8","g":"b","t":19.4,"v":0.108},{"s":"Tag 8","g":"b","t":20.2,"v":0.1075},{"s":"Tag 8","g":"b","t":21,"v":0.1085},{"s":"Tag 8","g":"b","t":21.8,"v":0.107},{"s":"Tag 8","g":"b","t":22.6,"v":0.108},{"s":"Tag 8","g":"b","t":23.4,"v":0.1075},{"s":"Tag 8","g":"b","t":24.2,"v":0.107},{"s":"Tag 8","g":"b","t":25,"v":0.108},{"s":"Tag 8","g":"b","t":25.8,"v":0.1075},{"s":"Tag 8","g":"b","t":26.6,"v":0.1065},{"s":"Tag 8","g":"b","t":27.4,"v":0.1075},{"s":"Tag 8","g":"b","t":28.2,"v":0.107},{"s":"Tag 8","g":"b","t":29,"v":0.108},{"s":"Tag 8","g":"b","t":29.8,"v":0.107},{"s":"Tag 8","g":"b","t":30.6,"v":0.1075},{"s":"Tag 8","g":"b","t":31.4,"v":0.107},{"s":"Tag 8","g":"b","t":32.2,"v":0.1065},{"s":"Tag 8","g":"b","t":33,"v":0.1075},{"s":"Tag 8","g":"b","t":33.8,"v":0.107},{"s":"Tag 8","g":"b","t":34.6,"v":0.1068},{"s":"Tag 8","g":"b","t":35.4,"v":0.1075},{"s":"Tag 8","g":"b","t":36.2,"v":0.107},{"s":"Tag 8","g":"b","t":37,"v":0.1068},{"s":"Tag 8","g":"b","t":37.8,"v":0.1072},{"s":"Tag 8","g":"b","t":38.6,"v":0.108},{"s":"Tag 8","g":"b","t":39.3,"v":0.109},
{"s":"Tag 8","g":"c","t":39.5,"v":0.1},{"s":"Tag 8","g":"c","t":39.5,"v":0.095},
{"s":"nan1","g":"a","t":13,"v":0.013},{"s":"nan1","g":"a","t":13,"v":0.106},{"s":"nan1","g":"b","t":39.2,"v":0.108},{"s":"nan1","g":"b","t":39.2,"v":0.099},
{"s":"nan2","g":"a","t":40,"v":0.108},{"s":"nan2","g":"a","t":42,"v":0.1085},{"s":"nan2","g":"a","t":45,"v":0.109},{"s":"nan2","g":"a","t":48,"v":0.1085},{"s":"nan2","g":"a","t":50,"v":0.109},{"s":"nan2","g":"a","t":52,"v":0.1085},{"s":"nan2","g":"a","t":55,"v":0.109},{"s":"nan2","g":"a","t":58,"v":0.108},{"s":"nan2","g":"a","t":61,"v":0.108},{"s":"nan2","g":"a","t":63,"v":0.109},{"s":"nan2","g":"a","t":63.6,"v":0.108},{"s":"nan2","g":"a","t":63.6,"v":0.093},
{"s":"nan3","g":"a","t":64,"v":0},{"s":"nan3","g":"a","t":67,"v":0},{"s":"nan3","g":"a","t":70,"v":0},{"s":"nan3","g":"a","t":72.8,"v":0},{"s":"nan3","g":"a","t":73.1,"v":0.109},{"s":"nan3","g":"a","t":73.3,"v":0},{"s":"nan3","g":"a","t":73.5,"v":0.109},{"s":"nan3","g":"a","t":73.7,"v":0},{"s":"nan3","g":"a","t":73.9,"v":0.109},{"s":"nan3","g":"a","t":74.1,"v":0},{"s":"nan3","g":"a","t":74.3,"v":0.109},{"s":"nan3","g":"a","t":74.5,"v":0},{"s":"nan3","g":"a","t":74.7,"v":0.109},{"s":"nan3","g":"a","t":74.9,"v":0},{"s":"nan3","g":"a","t":75.1,"v":0.109},{"s":"nan3","g":"a","t":75.3,"v":0},{"s":"nan3","g":"a","t":75.5,"v":0.109},{"s":"nan3","g":"a","t":75.7,"v":0.005},{"s":"nan3","g":"a","t":75.9,"v":0.109},
{"s":"nan4","g":"a","t":78,"v":0.108},{"s":"nan4","g":"a","t":80,"v":0.1085},{"s":"nan4","g":"a","t":82,"v":0.108},{"s":"nan4","g":"a","t":84,"v":0.108},{"s":"nan4","g":"a","t":86,"v":0.1085},{"s":"nan4","g":"a","t":88,"v":0.108},{"s":"nan4","g":"a","t":90,"v":0.108},{"s":"nan4","g":"a","t":91,"v":0.1075},{"s":"nan4","g":"a","t":92,"v":0.105},{"s":"nan4","g":"a","t":92.5,"v":0.1},{"s":"nan4","g":"a","t":93,"v":0.092},
{"s":"Tag 1","g":"a","t":93,"v":0.004},{"s":"Tag 1","g":"a","t":94,"v":0.005},{"s":"Tag 1","g":"a","t":95,"v":0.005},{"s":"Tag 1","g":"a","t":96,"v":0.005},{"s":"Tag 1","g":"a","t":97,"v":0.0055},{"s":"Tag 1","g":"a","t":98,"v":0.006},{"s":"Tag 1","g":"a","t":99,"v":0.006},{"s":"Tag 1","g":"a","t":100,"v":0.0065},{"s":"Tag 1","g":"a","t":101,"v":0.006},{"s":"Tag 1","g":"a","t":102,"v":0.0065},{"s":"Tag 1","g":"a","t":103,"v":0.0065},{"s":"Tag 1","g":"a","t":104,"v":0.006},{"s":"Tag 1","g":"a","t":105,"v":0.0075},{"s":"Tag 1","g":"a","t":106,"v":0.008},{"s":"Tag 1","g":"a","t":107,"v":0.009},{"s":"Tag 1","g":"a","t":108,"v":0.0105},{"s":"Tag 1","g":"a","t":109,"v":0.0115},{"s":"Tag 1","g":"a","t":110,"v":0.012},{"s":"Tag 1","g":"a","t":111,"v":0.0125},{"s":"Tag 1","g":"a","t":112,"v":0.013},{"s":"Tag 1","g":"a","t":113,"v":0.0135},{"s":"Tag 1","g":"a","t":114,"v":0.0135},{"s":"Tag 1","g":"a","t":115,"v":0.014},{"s":"Tag 1","g":"a","t":117,"v":0.014},{"s":"Tag 1","g":"a","t":119,"v":0.014},{"s":"Tag 1","g":"a","t":121,"v":0.0142}
]
},
"concat": [
{"title": "Position - x", "width": 262, "height": 210, "data": {"name": "p1"},
 "encoding": {
  "x": {"field": "t", "type": "quantitative", "scale": {"domain": [0, 150], "nice": false}, "axis": {"values": [0, 50, 100, 150], "title": "Timestamp [s]"}},
  "y": {"field": "v", "type": "quantitative", "scale": {"domain": [0, 12], "nice": false, "zero": false}, "axis": {"values": [0, 2, 4, 6, 8, 10, 12], "title": "Distance [m]", "labelExpr": "'' + datum.value"}},
  "color": {"field": "s", "type": "nominal", "scale": {"domain": ["nan1","Tag 1","nan2","Tag 4","nan3","Tag 6","nan4","Tag 7","nan5","Tag 8"], "range": ["#4096ce","#D95319","#f2c558","#7E2F8E","#99c164","#4DBEEE","#b94f63","#0072BD","#e37e53","#EDB120"]}, "legend": {"title": null, "labelExpr": "indexof(datum.label,'nan')==0 ? 'nan' : datum.label"}}
 },
 "layer": [
  {"mark": {"type": "line", "strokeWidth": 1.2}, "encoding": {"detail": {"field": "g"}, "strokeDash": {"field": "s", "type": "nominal", "scale": {"domain": ["nan1","Tag 1","nan2","Tag 4","nan3","Tag 6","nan4","Tag 7","nan5","Tag 8"], "range": [[6,3],[1,0],[6,3],[1,0],[6,3],[1,0],[6,3],[1,0],[6,3],[1,0]]}, "legend": {"title": null, "labelExpr": "indexof(datum.label,'nan')==0 ? 'nan' : datum.label"}}}},
  {"transform": [{"filter": "indexof(datum.s,'Tag')==0"}], "mark": {"type": "point", "filled": false, "size": 1444, "strokeWidth": 1.5, "opacity": 1}, "encoding": {"shape": {"field": "s", "type": "nominal", "scale": {"domain": ["nan1","Tag 1","nan2","Tag 4","nan3","Tag 6","nan4","Tag 7","nan5","Tag 8"], "range": ["stroke","M-0.04,0A0.04,0.04,0,1,1,0.04,0A0.04,0.04,0,1,1,-0.04,0Z","stroke","M-0.04,0A0.04,0.04,0,1,1,0.04,0A0.04,0.04,0,1,1,-0.04,0Z","stroke","M-0.04,0A0.04,0.04,0,1,1,0.04,0A0.04,0.04,0,1,1,-0.04,0Z","stroke","M-0.04,0A0.04,0.04,0,1,1,0.04,0A0.04,0.04,0,1,1,-0.04,0Z","stroke","M-0.04,0A0.04,0.04,0,1,1,0.04,0A0.04,0.04,0,1,1,-0.04,0Z"]}, "legend": {"title": null, "labelExpr": "indexof(datum.label,'nan')==0 ? 'nan' : datum.label"}}}}
 ]
},
{"title": "Position - y", "width": 262, "height": 210, "data": {"name": "p2"},
 "encoding": {
  "x": {"field": "t", "type": "quantitative", "scale": {"domain": [0, 150], "nice": false}, "axis": {"values": [0, 50, 100, 150], "title": "Timestamp [s]"}},
  "y": {"field": "v", "type": "quantitative", "scale": {"domain": [0, 2], "nice": false, "zero": false}, "axis": {"values": [0, 0.5, 1, 1.5, 2], "title": "Distance [m]", "labelExpr": "'' + datum.value"}},
  "color": {"field": "s", "type": "nominal", "scale": {"domain": ["nan1","Tag 1","nan2","Tag 4","nan3","Tag 6","nan4","Tag 7","nan5","Tag 8"], "range": ["#4096ce","#D95319","#f2c558","#7E2F8E","#99c164","#4DBEEE","#b94f63","#0072BD","#e37e53","#EDB120"]}, "legend": {"title": null, "labelExpr": "indexof(datum.label,'nan')==0 ? 'nan' : datum.label"}}
 },
 "layer": [
  {"mark": {"type": "line", "strokeWidth": 1.2}, "encoding": {"detail": {"field": "g"}, "strokeDash": {"field": "s", "type": "nominal", "scale": {"domain": ["nan1","Tag 1","nan2","Tag 4","nan3","Tag 6","nan4","Tag 7","nan5","Tag 8"], "range": [[6,3],[1,0],[6,3],[1,0],[6,3],[1,0],[6,3],[1,0],[6,3],[1,0]]}, "legend": {"title": null, "labelExpr": "indexof(datum.label,'nan')==0 ? 'nan' : datum.label"}}}},
  {"transform": [{"filter": "indexof(datum.s,'Tag')==0"}], "mark": {"type": "point", "filled": false, "size": 1444, "strokeWidth": 1.5, "opacity": 1}, "encoding": {"shape": {"field": "s", "type": "nominal", "scale": {"domain": ["nan1","Tag 1","nan2","Tag 4","nan3","Tag 6","nan4","Tag 7","nan5","Tag 8"], "range": ["stroke","M-0.04,0A0.04,0.04,0,1,1,0.04,0A0.04,0.04,0,1,1,-0.04,0Z","stroke","M-0.04,0A0.04,0.04,0,1,1,0.04,0A0.04,0.04,0,1,1,-0.04,0Z","stroke","M-0.04,0A0.04,0.04,0,1,1,0.04,0A0.04,0.04,0,1,1,-0.04,0Z","stroke","M-0.04,0A0.04,0.04,0,1,1,0.04,0A0.04,0.04,0,1,1,-0.04,0Z","stroke","M-0.04,0A0.04,0.04,0,1,1,0.04,0A0.04,0.04,0,1,1,-0.04,0Z"]}, "legend": {"title": null, "labelExpr": "indexof(datum.label,'nan')==0 ? 'nan' : datum.label"}}}}
 ]
},
{"title": "Position - z", "width": 262, "height": 210, "data": {"name": "p3"},
 "encoding": {
  "x": {"field": "t", "type": "quantitative", "scale": {"domain": [0, 150], "nice": false}, "axis": {"values": [0, 50, 100, 150], "title": "Timestamp [s]"}},
  "y": {"field": "v", "type": "quantitative", "scale": {"domain": [-2.5, 0], "nice": false, "zero": false}, "axis": {"values": [-2.5, -2, -1.5, -1, -0.5, 0], "title": "Distance [m]", "labelExpr": "'' + datum.value"}},
  "color": {"field": "s", "type": "nominal", "scale": {"domain": ["nan1","Tag 1","nan2","Tag 4","nan3","Tag 6","nan4","Tag 7","nan5","Tag 8"], "range": ["#4096ce","#D95319","#f2c558","#7E2F8E","#99c164","#4DBEEE","#b94f63","#0072BD","#e37e53","#EDB120"]}, "legend": {"title": null, "labelExpr": "indexof(datum.label,'nan')==0 ? 'nan' : datum.label"}}
 },
 "layer": [
  {"mark": {"type": "line", "strokeWidth": 1.2}, "encoding": {"detail": {"field": "g"}, "strokeDash": {"field": "s", "type": "nominal", "scale": {"domain": ["nan1","Tag 1","nan2","Tag 4","nan3","Tag 6","nan4","Tag 7","nan5","Tag 8"], "range": [[6,3],[1,0],[6,3],[1,0],[6,3],[1,0],[6,3],[1,0],[6,3],[1,0]]}, "legend": {"title": null, "labelExpr": "indexof(datum.label,'nan')==0 ? 'nan' : datum.label"}}}},
  {"transform": [{"filter": "indexof(datum.s,'Tag')==0"}], "mark": {"type": "point", "filled": false, "size": 1444, "strokeWidth": 1.5, "opacity": 1}, "encoding": {"shape": {"field": "s", "type": "nominal", "scale": {"domain": ["nan1","Tag 1","nan2","Tag 4","nan3","Tag 6","nan4","Tag 7","nan5","Tag 8"], "range": ["stroke","M-0.04,0A0.04,0.04,0,1,1,0.04,0A0.04,0.04,0,1,1,-0.04,0Z","stroke","M-0.04,0A0.04,0.04,0,1,1,0.04,0A0.04,0.04,0,1,1,-0.04,0Z","stroke","M-0.04,0A0.04,0.04,0,1,1,0.04,0A0.04,0.04,0,1,1,-0.04,0Z","stroke","M-0.04,0A0.04,0.04,0,1,1,0.04,0A0.04,0.04,0,1,1,-0.04,0Z","stroke","M-0.04,0A0.04,0.04,0,1,1,0.04,0A0.04,0.04,0,1,1,-0.04,0Z"]}, "legend": {"title": null, "labelExpr": "indexof(datum.label,'nan')==0 ? 'nan' : datum.label"}}}}
 ]
},
{"title": "Orientation - x", "width": 262, "height": 210, "data": {"name": "p4"},
 "encoding": {
  "x": {"field": "t", "type": "quantitative", "scale": {"domain": [0, 150], "nice": false}, "axis": {"values": [0, 50, 100, 150], "title": "Timestamp [s]"}},
  "y": {"field": "v", "type": "quantitative", "scale": {"domain": [0, 0.12], "nice": false, "zero": false}, "axis": {"values": [0, 0.02, 0.04, 0.06, 0.08, 0.1, 0.12], "title": "Angle [rad]", "labelExpr": "'' + datum.value"}},
  "color": {"field": "s", "type": "nominal", "scale": {"domain": ["nan1","Tag 1","nan2","Tag 4","nan3","Tag 6","nan4","Tag 7","nan5","Tag 8"], "range": ["#4096ce","#D95319","#f2c558","#7E2F8E","#99c164","#4DBEEE","#b94f63","#0072BD","#e37e53","#EDB120"]}, "legend": {"title": null, "labelExpr": "indexof(datum.label,'nan')==0 ? 'nan' : datum.label"}}
 },
 "layer": [
  {"mark": {"type": "line", "strokeWidth": 1.2}, "encoding": {"detail": {"field": "g"}, "strokeDash": {"field": "s", "type": "nominal", "scale": {"domain": ["nan1","Tag 1","nan2","Tag 4","nan3","Tag 6","nan4","Tag 7","nan5","Tag 8"], "range": [[6,3],[1,0],[6,3],[1,0],[6,3],[1,0],[6,3],[1,0],[6,3],[1,0]]}, "legend": {"title": null, "labelExpr": "indexof(datum.label,'nan')==0 ? 'nan' : datum.label"}}}},
  {"transform": [{"filter": "indexof(datum.s,'Tag')==0"}], "mark": {"type": "point", "filled": false, "size": 1444, "strokeWidth": 1.5, "opacity": 1}, "encoding": {"shape": {"field": "s", "type": "nominal", "scale": {"domain": ["nan1","Tag 1","nan2","Tag 4","nan3","Tag 6","nan4","Tag 7","nan5","Tag 8"], "range": ["stroke","M-0.04,0A0.04,0.04,0,1,1,0.04,0A0.04,0.04,0,1,1,-0.04,0Z","stroke","M-0.04,0A0.04,0.04,0,1,1,0.04,0A0.04,0.04,0,1,1,-0.04,0Z","stroke","M-0.04,0A0.04,0.04,0,1,1,0.04,0A0.04,0.04,0,1,1,-0.04,0Z","stroke","M-0.04,0A0.04,0.04,0,1,1,0.04,0A0.04,0.04,0,1,1,-0.04,0Z","stroke","M-0.04,0A0.04,0.04,0,1,1,0.04,0A0.04,0.04,0,1,1,-0.04,0Z"]}, "legend": {"title": null, "labelExpr": "indexof(datum.label,'nan')==0 ? 'nan' : datum.label"}}}}
 ]
},
{"title": "Orientation - y", "width": 262, "height": 210, "data": {"name": "p5"},
 "encoding": {
  "x": {"field": "t", "type": "quantitative", "scale": {"domain": [0, 150], "nice": false}, "axis": {"values": [0, 50, 100, 150], "title": "Timestamp [s]"}},
  "y": {"field": "v", "type": "quantitative", "scale": {"domain": [0, 0.12], "nice": false, "zero": false}, "axis": {"values": [0, 0.02, 0.04, 0.06, 0.08, 0.1, 0.12], "title": "Angle [rad]", "labelExpr": "'' + datum.value"}},
  "color": {"field": "s", "type": "nominal", "scale": {"domain": ["nan1","Tag 1","nan2","Tag 4","nan3","Tag 6","nan4","Tag 7","nan5","Tag 8"], "range": ["#4096ce","#D95319","#f2c558","#7E2F8E","#99c164","#4DBEEE","#b94f63","#0072BD","#e37e53","#EDB120"]}, "legend": {"title": null, "labelExpr": "indexof(datum.label,'nan')==0 ? 'nan' : datum.label"}}
 },
 "layer": [
  {"mark": {"type": "line", "strokeWidth": 1.2}, "encoding": {"detail": {"field": "g"}, "strokeDash": {"field": "s", "type": "nominal", "scale": {"domain": ["nan1","Tag 1","nan2","Tag 4","nan3","Tag 6","nan4","Tag 7","nan5","Tag 8"], "range": [[6,3],[1,0],[6,3],[1,0],[6,3],[1,0],[6,3],[1,0],[6,3],[1,0]]}, "legend": {"title": null, "labelExpr": "indexof(datum.label,'nan')==0 ? 'nan' : datum.label"}}}},
  {"transform": [{"filter": "indexof(datum.s,'Tag')==0"}], "mark": {"type": "point", "filled": false, "size": 1444, "strokeWidth": 1.5, "opacity": 1}, "encoding": {"shape": {"field": "s", "type": "nominal", "scale": {"domain": ["nan1","Tag 1","nan2","Tag 4","nan3","Tag 6","nan4","Tag 7","nan5","Tag 8"], "range": ["stroke","M-0.04,0A0.04,0.04,0,1,1,0.04,0A0.04,0.04,0,1,1,-0.04,0Z","stroke","M-0.04,0A0.04,0.04,0,1,1,0.04,0A0.04,0.04,0,1,1,-0.04,0Z","stroke","M-0.04,0A0.04,0.04,0,1,1,0.04,0A0.04,0.04,0,1,1,-0.04,0Z","stroke","M-0.04,0A0.04,0.04,0,1,1,0.04,0A0.04,0.04,0,1,1,-0.04,0Z","stroke","M-0.04,0A0.04,0.04,0,1,1,0.04,0A0.04,0.04,0,1,1,-0.04,0Z"]}, "legend": {"title": null, "labelExpr": "indexof(datum.label,'nan')==0 ? 'nan' : datum.label"}}}}
 ]
},
{"title": "Orientation - z", "width": 262, "height": 210, "data": {"name": "p6"},
 "encoding": {
  "x": {"field": "t", "type": "quantitative", "scale": {"domain": [0, 150], "nice": false}, "axis": {"values": [0, 50, 100, 150], "title": "Timestamp [s]"}},
  "y": {"field": "v", "type": "quantitative", "scale": {"domain": [0, 0.12], "nice": false, "zero": false}, "axis": {"values": [0, 0.02, 0.04, 0.06, 0.08, 0.1, 0.12], "title": "Angle [rad]", "labelExpr": "'' + datum.value"}},
  "color": {"field": "s", "type": "nominal", "scale": {"domain": ["nan1","Tag 1","nan2","Tag 4","nan3","Tag 6","nan4","Tag 7","nan5","Tag 8"], "range": ["#4096ce","#D95319","#f2c558","#7E2F8E","#99c164","#4DBEEE","#b94f63","#0072BD","#e37e53","#EDB120"]}, "legend": {"title": null, "labelExpr": "indexof(datum.label,'nan')==0 ? 'nan' : datum.label"}}
 },
 "layer": [
  {"mark": {"type": "line", "strokeWidth": 1.2}, "encoding": {"detail": {"field": "g"}, "strokeDash": {"field": "s", "type": "nominal", "scale": {"domain": ["nan1","Tag 1","nan2","Tag 4","nan3","Tag 6","nan4","Tag 7","nan5","Tag 8"], "range": [[6,3],[1,0],[6,3],[1,0],[6,3],[1,0],[6,3],[1,0],[6,3],[1,0]]}, "legend": {"title": null, "labelExpr": "indexof(datum.label,'nan')==0 ? 'nan' : datum.label"}}}},
  {"transform": [{"filter": "indexof(datum.s,'Tag')==0"}], "mark": {"type": "point", "filled": false, "size": 1444, "strokeWidth": 1.5, "opacity": 1}, "encoding": {"shape": {"field": "s", "type": "nominal", "scale": {"domain": ["nan1","Tag 1","nan2","Tag 4","nan3","Tag 6","nan4","Tag 7","nan5","Tag 8"], "range": ["stroke","M-0.04,0A0.04,0.04,0,1,1,0.04,0A0.04,0.04,0,1,1,-0.04,0Z","stroke","M-0.04,0A0.04,0.04,0,1,1,0.04,0A0.04,0.04,0,1,1,-0.04,0Z","stroke","M-0.04,0A0.04,0.04,0,1,1,0.04,0A0.04,0.04,0,1,1,-0.04,0Z","stroke","M-0.04,0A0.04,0.04,0,1,1,0.04,0A0.04,0.04,0,1,1,-0.04,0Z","stroke","M-0.04,0A0.04,0.04,0,1,1,0.04,0A0.04,0.04,0,1,1,-0.04,0Z"]}, "legend": {"title": null, "labelExpr": "indexof(datum.label,'nan')==0 ? 'nan' : datum.label"}}}}
 ]
}
],
"config": {
 "font": "Liberation Sans",
 "view": {"fill": "white", "stroke": "#d6d6d6", "strokeWidth": 1},
 "axis": {"domainColor": "#404040", "domainWidth": 1, "ticks": false, "labelFontSize": 12, "labelColor": "#303030", "labelPadding": 5, "titleFontSize": 13, "titleFontWeight": "normal", "titleColor": "#303030", "gridColor": "#e6e6e6", "gridWidth": 1, "titlePadding": 6},
 "axisX": {"labelPadding": 7},
 "title": {"fontSize": 13, "fontWeight": "bold", "color": "#000000", "offset": -3},
 "legend": {"orient": "top-right", "offset": 12, "fillColor": "white", "strokeColor": "#7a7a7a", "padding": 4, "labelFontSize": 10.5, "labelColor": "#262626", "symbolSize": 1444, "symbolStrokeWidth": 1.5, "clipHeight": 14, "rowPadding": 1.7, "labelOffset": 2, "symbolOffset": 0}
}
}
